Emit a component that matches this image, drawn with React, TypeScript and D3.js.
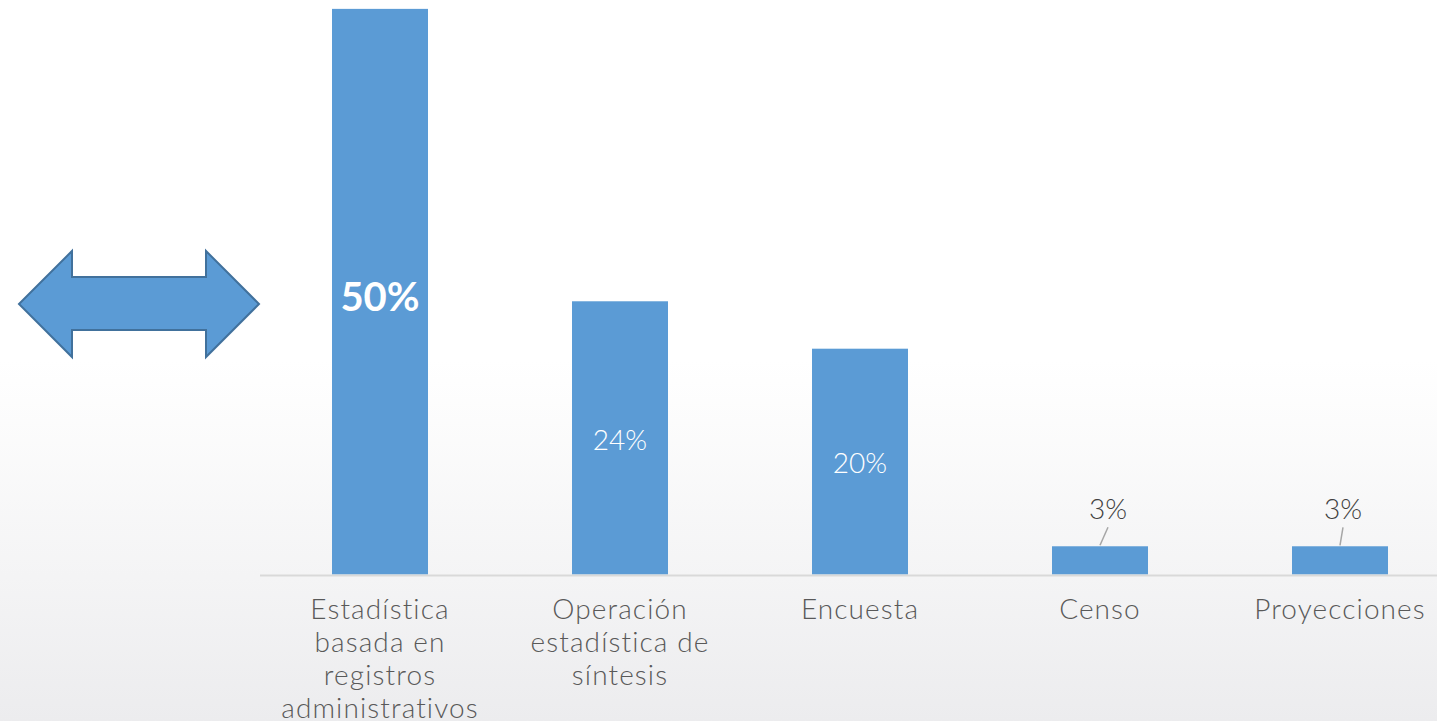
import { useEffect } from 'react'
import * as d3 from 'd3'

const categories = [
  ['Estadística', 'basada en', 'registros', 'administrativos'],
  ['Operación', 'estadística de', 'síntesis'],
  ['Encuesta'],
  ['Censo'],
  ['Proyecciones'],
]
const values = [50.1, 24.2, 20, 2.5, 2.5]
// labels that sit above the bar with a leader line
const outside = [false, false, false, true, true]
const highlighted = [true, false, false, false, false]

const W = 1437
const H = 721
const BAR = '#5b9bd5'
const FONT = 'Lato, "Open Sans", sans-serif'

export default function App() {
  useEffect(() => {
    document.body.style.margin = '0'
  }, [])

  const x = d3.scaleBand<number>()
    .domain(d3.range(values.length))
    .range([260, 1460])
    .paddingInner(0.6)
    .paddingOuter(0.3)

  const y = d3.scaleLinear().domain([0, 50]).range([574.5, 10])

  const arrow = d3.line()([
    [19, 304], [72, 251], [72, 277], [206, 277], [206, 251], [259, 304],
    [206, 357], [206, 330], [72, 330], [72, 357],
  ]) + 'Z'

  return (
    <svg width={W} height={H} style={{ display: 'block' }}>
      <defs>
        <linearGradient id="bg" x1="0" y1="0" x2="0" y2="1">
          <stop offset="0" stopColor="#ffffff" />
          <stop offset="0.5" stopColor="#ffffff" />
          <stop offset="0.8" stopColor="#f4f4f5" />
          <stop offset="1" stopColor="#ececee" />
        </linearGradient>
      </defs>
      <rect width={W} height={H} fill="url(#bg)" />

      <path d={arrow} fill={BAR} stroke="#41719c" strokeWidth={2} />

      {values.map((v, i) => (
        <rect key={i} x={x(i)} y={y(v)} width={x.bandwidth()} height={y(0) - y(v)} fill={BAR} />
      ))}

      <line x1={260} x2={W} y1={575.5} y2={575.5} stroke="#d9d9d9" strokeWidth={2} />

      {values.map((v, i) => {
        const cx = x(i)! + x.bandwidth() / 2
        const txt = Math.round(v) + '%'
        if (outside[i]) {
          const dx = i === 3 ? 8 : 3
          return (
            <g key={i}>
              <line x1={cx} y1={y(v) - 1} x2={cx + dx} y2={y(v) - 19} stroke="#a6a6a6" strokeWidth={1.5} />
              <text x={cx + dx} y={y(v) - 27} textAnchor="middle" fill="#404040"
                fontFamily={FONT} fontWeight={300} fontSize={28}>{txt}</text>
            </g>
          )
        }
        const cy = (y(v) + y(0)) / 2 + (highlighted[i] ? 5 : 2)
        return (
          <text key={i} x={cx} y={cy} dy="0.35em" textAnchor="middle" fill="#ffffff"
            fontFamily={FONT} fontWeight={highlighted[i] ? 700 : 300}
            fontSize={highlighted[i] ? 40 : 28}>{txt}</text>
        )
      })}

      {categories.map((lines, i) => (
        <text key={i} x={x(i)! + x.bandwidth() / 2} textAnchor="middle" fill="#595959"
          fontFamily={FONT} fontWeight={300} fontSize={28} letterSpacing={1.1}>
          {lines.map((l, j) => (
            <tspan key={j} x={x(i)! + x.bandwidth() / 2} y={619 + j * 33}>{l}</tspan>
          ))}
        </text>
      ))}
    </svg>
  )
}
